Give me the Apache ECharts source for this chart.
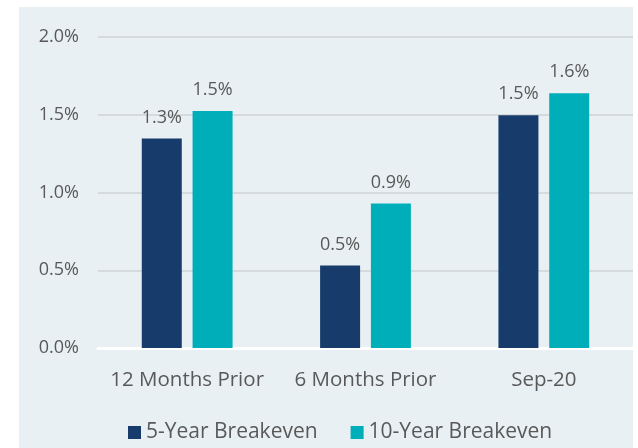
<!DOCTYPE html>
<html lang="en">
<head>
    <meta charset="UTF-8">
    <title>Breakeven</title>
    <script src="https://cdn.jsdelivr.net/npm/echarts@6/dist/echarts.min.js"></script>
    <style>
        body { margin: 0; background: #fff; }
        #chart { width: 638px; height: 448px; }
    </style>
</head>
<body>
<div id="chart"></div>
<script type="text/javascript">
    // data
    var categories = ['12 Months Prior', '6 Months Prior', 'Sep-20'];
    var fiveYear = [1.348, 0.53, 1.496];
    var tenYear = [1.524, 0.93, 1.638];
    var seriesNames = ['5-Year Breakeven', '10-Year Breakeven'];

    var myChart = echarts.init(document.getElementById('chart'));
    var font = 'Open Sans';
    var lbl = {
        show: true,
        position: 'top',
        distance: 12,
        color: '#595959',
        fontSize: 18,
        fontFamily: font,
        formatter: function (p) { return p.value.toFixed(1) + '%'; }
    };

    var option = {
        animation: false,
        graphic: [{
            type: 'rect',
            z: -10,
            shape: { x: 19, y: 7, width: 614, height: 441 },
            style: { fill: '#e8f0f3' }
        }],
        grid: { left: 98, right: 5, top: 37, bottom: 100 },
        legend: {
            left: 123,
            top: 417,
            itemWidth: 13,
            itemHeight: 13,
            itemGap: 33,
            icon: 'rect',
            textStyle: { color: '#595959', fontSize: 21, fontFamily: font },
            data: seriesNames
        },
        xAxis: {
            type: 'category',
            data: categories,
            axisLine: { lineStyle: { color: '#ffffff', width: 3 } },
            axisTick: { show: false },
            axisLabel: { color: '#595959', fontSize: 20.5, fontFamily: font, margin: 22, interval: 0 }
        },
        yAxis: {
            type: 'value',
            min: 0,
            max: 2,
            interval: 0.5,
            axisLine: { show: false },
            axisTick: { show: false },
            splitLine: { lineStyle: { color: '#d5dadd', width: 2 } },
            axisLabel: {
                color: '#595959',
                fontSize: 18,
                fontFamily: font,
                margin: 19,
                formatter: function (v) { return v.toFixed(1) + '%'; }
            }
        },
        series: [
            {
                name: seriesNames[0],
                type: 'bar',
                data: fiveYear,
                barWidth: 40,
                barGap: '27%',
                itemStyle: { color: '#173c6b' },
                label: lbl
            },
            {
                name: seriesNames[1],
                type: 'bar',
                data: tenYear,
                barWidth: 40,
                itemStyle: { color: '#00aeba' },
                label: lbl
            }
        ]
    };
    myChart.setOption(option);
</script>
</body>
</html>
